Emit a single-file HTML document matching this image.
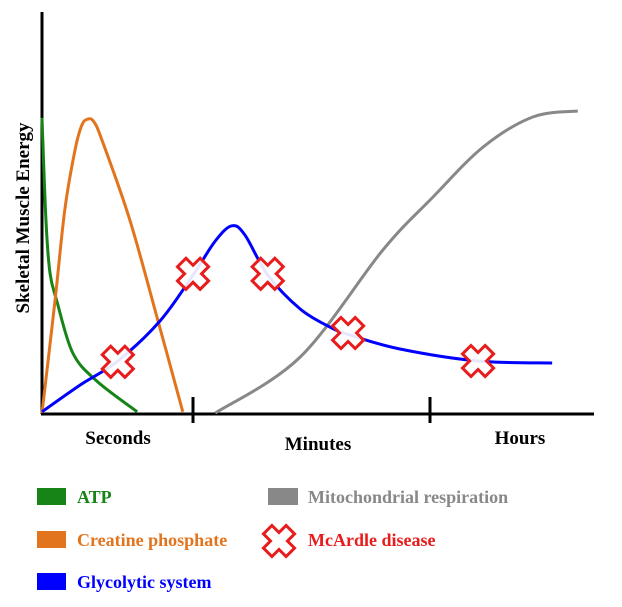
<!DOCTYPE html>
<html><head><meta charset="utf-8"><style>
body{margin:0;background:#fff}
svg{display:block;font-family:"Liberation Serif",serif;font-weight:bold}
</style></head><body>
<svg id="c" width="622" height="607">
<line x1="42" y1="12" x2="42" y2="414" stroke="#000" stroke-width="3"/>
<line x1="41" y1="414" x2="594" y2="414" stroke="#000" stroke-width="3"/>
<line x1="193" y1="397" x2="193" y2="423" stroke="#000" stroke-width="3"/>
<line x1="430" y1="397" x2="430" y2="423" stroke="#000" stroke-width="3"/>
<text x="118" y="444" font-size="19" text-anchor="middle">Seconds</text>
<text x="318" y="450" font-size="19" text-anchor="middle">Minutes</text>
<text x="520" y="444" font-size="19" text-anchor="middle">Hours</text>
<text transform="translate(29,218) rotate(-90)" font-size="19" text-anchor="middle">Skeletal Muscle Energy</text>
<g id="series"></g>
<g id="marks"></g>
<g font-size="18">
<rect x="37" y="488" width="29" height="17" fill="#178417"/>
<text x="77" y="503" fill="#178417">ATP</text>
<rect x="37" y="531" width="29" height="17" fill="#e2741d"/>
<text x="77" y="546" fill="#e2741d">Creatine phosphate</text>
<rect x="37" y="573" width="29" height="17" fill="#0000ff"/>
<text x="77" y="588" fill="#0000ff">Glycolytic system</text>
<rect x="268" y="488" width="30" height="17" fill="#888"/>
<text x="308" y="503" fill="#888">Mitochondrial respiration</text>
<g id="legcross"></g>
<text x="308" y="546" fill="#e81c1c">McArdle disease</text>
</g>
</svg>
<script>
// units: x 0..100 across axis (px 42..612), y 0..100 (px 413..13)
const atpX=[0,0.7,1.4,2.6,5.4,9.6,16.7];
const atpY=[73.8,48,35,28,15,8,0.3];
const crX=[0,2.3,4.0,5.8,7.0,8.1,9.1,10.5,15.4,20.3,24.7];
const crY=[0,28.3,50.8,65.8,72,73.5,72.8,68.3,48.3,23.3,0.3];
const glX=[0,6.7,13.3,20.7,26.5,30.4,33.3,35.6,39.6,45.3,50.5,54,62.8,76.5,89.5];
const glY=[0.3,7,13,23,34.5,43,46.8,44.5,34.5,26,21.5,19.5,16,13,12.5];
const miX=[30.4,45.3,59.8,68.6,77.4,86.1,94];
const miY=[0,14,40.75,54,66.5,74,75.5];
const xX=[13.3,26.5,39.6,53.7,76.5];
const xY=[12.8,34.8,34.8,20,13];
const px=v=>42+v*5.7, py=v=>413-v*4;
function path(xs,ys){
  const p=xs.map((x,i)=>[px(x),py(ys[i])]);
  let d=`M${p[0][0]},${p[0][1]}`;
  for(let i=0;i<p.length-1;i++){
    const a=p[Math.max(i-1,0)],b=p[i],c=p[i+1],e=p[Math.min(i+2,p.length-1)];
    d+=` C${b[0]+(c[0]-a[0])/6},${b[1]+(c[1]-a[1])/6} ${c[0]-(e[0]-b[0])/6},${c[1]-(e[1]-b[1])/6} ${c[0]},${c[1]}`;
  }
  return d;
}
const S='http://www.w3.org/2000/svg';
const g=document.getElementById('series');
[[atpX,atpY,'#178417','atp-line'],[crX,crY,'#e2741d','creatine-line'],[miX,miY,'#888','mito-line'],[glX,glY,'#0000ff','glycolytic-line']].forEach(s=>{
  const el=document.createElementNS(S,'path');
  el.setAttribute('d',path(s[0],s[1]));
  el.setAttribute('fill','none');el.setAttribute('stroke',s[2]);el.setAttribute('stroke-width','3');
  
  
  g.appendChild(el);
});
function cross(cx,cy,parent,name){
  const el=document.createElementNS(S,'polygon');
  const w=6,L=16,q=[[-w,-L],[w,-L],[w,-w],[L,-w],[L,w],[w,w],[w,L],[-w,L],[-w,w],[-L,w],[-L,-w],[-w,-w]];
  el.setAttribute('points',q.map(p=>p.join(',')).join(' '));
  el.setAttribute('transform',`translate(${cx},${cy}) rotate(45)`);
  el.setAttribute('fill','#fff');el.setAttribute('fill-opacity','0.9');el.setAttribute('stroke','#e81c1c');el.setAttribute('stroke-width','3');
  
  
  parent.appendChild(el);
}
const m=document.getElementById('marks');
xX.forEach((x,i)=>cross(px(x),py(xY[i]),m,'mcardle-marker'));
cross(279,541,document.getElementById('legcross'),'legend-swatch-mcardle');
</script>
</body></html>
